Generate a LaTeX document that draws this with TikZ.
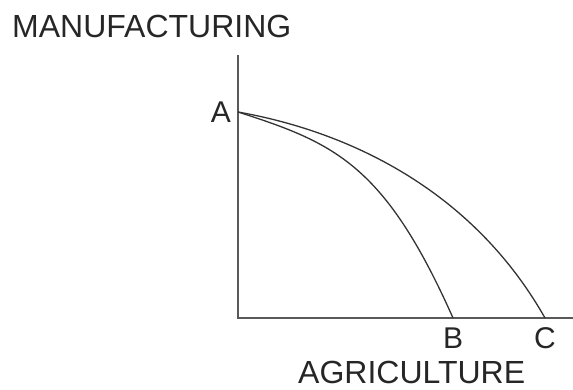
\documentclass[tikz,border=0pt]{standalone}
\usepackage{fontspec}
\setmainfont{Liberation Sans}
\begin{document}
\begin{tikzpicture}[x=1pt,y=-1pt,
  axisline/.style={draw=black!65,line width=2pt},
  ppf/.style={draw=black!80,line width=1.3pt},
  lbl/.style={font=\fontsize{30}{36}\selectfont,text=black!85,inner sep=0pt},
  ttl/.style={font=\fontsize{32}{38}\selectfont,text=black!85,inner sep=0pt}]
\useasboundingbox (0,0) rectangle (573,390);
\coordinate (top) at (238,55);
\coordinate (O) at (238,318);
\coordinate (right) at (573,318);
\coordinate (A) at (238,112);
\coordinate (B) at (453,318);
\coordinate (C) at (545,318);
\draw[axisline] (top) -- (O) -- (right);
\draw[ppf] (A) .. controls (335,143) and (385,165) .. (B);
\draw[ppf] (A) .. controls (356,133) and (475,194.5) .. (C);
\node[ttl,anchor=base west] (ml) at (12,38) {MANUFACTURING};
\node[ttl,anchor=base west] (al) at (298,383) {AGRICULTURE};
\node[lbl,anchor=base east] (la) at (231,123) {A};
\node[lbl,anchor=base] (lb) at (453,348) {B};
\node[lbl,anchor=base] (lc) at (545,348) {C};
\end{tikzpicture}
\end{document}
